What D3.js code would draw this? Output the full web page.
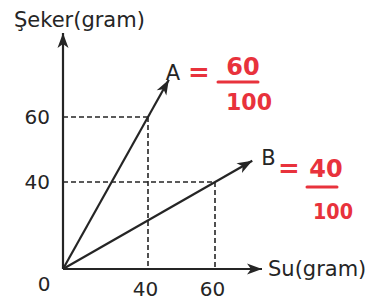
<!DOCTYPE html>
<html>
<head>
<meta charset="utf-8">
<script src="https://cdn.jsdelivr.net/npm/d3@7"></script>
<style>
  body { margin: 0; background: #fff; }
  svg { display: block; }
</style>
</head>
<body>
<div id="chart"></div>
<script>
// vectors: water (x) and sugar (y) in grams
var vectorNames = ["A", "B"];
var suValues = [40, 60];
var sekerValues = [60, 40];
// handwritten ratio next to each vector
var ratioTop = ["60", "40"];
var ratioBottom = ["100", "100"];
// tick labels
var xTicks = [40, 60];
var yTicks = [40, 60];

var width = 370, height = 300;
var ink = "#252525", red = "#e8323c";

var svg = d3.select("#chart").append("svg")
    .attr("width", width)
    .attr("height", height);

// schematic drawing, so the scale is piecewise
var x = d3.scaleLinear().domain([0, 40, 60]).range([63, 148, 215]);
var y = d3.scaleLinear().domain([0, 40, 60]).range([269, 182, 117]);

svg.append("defs").append("marker")
    .attr("id", "head")
    .attr("markerUnits", "userSpaceOnUse")
    .attr("viewBox", "-16 -6 17 12")
    .attr("refX", 0).attr("refY", 0)
    .attr("markerWidth", 17).attr("markerHeight", 12)
    .attr("orient", "auto")
    .append("path")
    .attr("d", "M0,0 L-15,-5.5 L-11,0 L-15,5.5 Z")
    .attr("fill", ink);

// dashed guides
var guides = svg.append("g")
    .attr("stroke", ink)
    .attr("stroke-width", 1.6)
    .attr("stroke-dasharray", "5,3");
vectorNames.forEach(function(n, i) {
    guides.append("line")
        .attr("x1", x(0)).attr("y1", y(sekerValues[i]))
        .attr("x2", x(suValues[i])).attr("y2", y(sekerValues[i]));
    guides.append("line")
        .attr("x1", x(suValues[i])).attr("y1", y(sekerValues[i]))
        .attr("x2", x(suValues[i])).attr("y2", y(0));
});

// axes
svg.append("line")
    .attr("x1", x(0)).attr("y1", y(0))
    .attr("x2", x(0)).attr("y2", 33)
    .attr("stroke", ink).attr("stroke-width", 2.2)
    .attr("marker-end", "url(#head)");
svg.append("line")
    .attr("x1", x(0)).attr("y1", y(0))
    .attr("x2", 262).attr("y2", y(0))
    .attr("stroke", ink).attr("stroke-width", 2.2)
    .attr("marker-end", "url(#head)");

var yAxis = svg.append("g")
    .attr("transform", "translate(" + x(0) + ",0)")
    .call(d3.axisLeft(y).tickValues(yTicks).tickSize(0).tickPadding(13));
var xAxis = svg.append("g")
    .attr("transform", "translate(0," + y(0) + ")")
    .call(d3.axisBottom(x).tickValues(xTicks).tickSize(0).tickPadding(13));
[yAxis, xAxis].forEach(function(a) {
    a.select(".domain").remove();
    a.selectAll("text")
        .attr("font-family", "DejaVu Sans")
        .attr("font-size", 20)
        .attr("fill", ink);
});
xAxis.selectAll("text").attr("dx", "-0.15em");

svg.append("text")
    .attr("x", 44).attr("y", 291)
    .attr("text-anchor", "middle")
    .attr("font-family", "DejaVu Sans").attr("font-size", 20)
    .attr("fill", ink)
    .text("0");

svg.append("text")
    .attr("x", 14).attr("y", 27)
    .attr("font-family", "DejaVu Sans").attr("font-size", 21)
    .attr("fill", ink)
    .text("Şeker(gram)");
svg.append("text")
    .attr("x", 268).attr("y", 276)
    .attr("font-family", "DejaVu Sans").attr("font-size", 21)
    .attr("fill", ink)
    .text("Su(gram)");

// vectors, drawn a bit past their point
var stretch = 1.245;
var vec = svg.selectAll(".vec")
    .data(vectorNames)
    .enter().append("g")
    .attr("class", "vec");

vec.append("line")
    .attr("x1", x(0)).attr("y1", y(0))
    .attr("x2", function(d, i) { return x(0) + stretch * (x(suValues[i]) - x(0)); })
    .attr("y2", function(d, i) { return y(0) + stretch * (y(sekerValues[i]) - y(0)); })
    .attr("stroke", ink).attr("stroke-width", 2.2)
    .attr("marker-end", "url(#head)");

var labelOffsets = [[-3, 0], [9, 4]];
vec.append("text")
    .attr("x", function(d, i) { return x(0) + stretch * (x(suValues[i]) - x(0)) + labelOffsets[i][0]; })
    .attr("y", function(d, i) { return y(0) + stretch * (y(sekerValues[i]) - y(0)) + labelOffsets[i][1]; })
    .attr("font-family", "DejaVu Sans").attr("font-size", 21)
    .attr("fill", ink)
    .text(function(d) { return d; });

// red handwritten ratios: anchor, then top text centre/baseline, bar ends/height, bottom centre/baseline/size
var ratioPos = [[188, 76], [278, 172]];
var ratioLayout = [
    {tx: 55, ty: -1, x1: 30, x2: 70, ly: 6, bx: 61, by: 34, bs: 23},
    {tx: 48, ty: 5, x1: 29, x2: 59, ly: 15, bx: 55, by: 47, bs: 21}
];
var ratio = vec.append("g")
    .attr("transform", function(d, i) { return "translate(" + ratioPos[i][0] + "," + ratioPos[i][1] + ")"; })
    .attr("fill", red)
    .attr("font-family", "DejaVu Sans")
    .attr("font-weight", "bold");
ratio.append("text")
    .attr("x", 0).attr("y", 5)
    .attr("font-size", 26)
    .text("=");
ratio.append("text")
    .attr("x", function(d, i) { return ratioLayout[i].tx; })
    .attr("y", function(d, i) { return ratioLayout[i].ty; })
    .attr("text-anchor", "middle")
    .attr("font-size", 24)
    .text(function(d, i) { return ratioTop[i]; });
ratio.append("line")
    .attr("x1", function(d, i) { return ratioLayout[i].x1; })
    .attr("x2", function(d, i) { return ratioLayout[i].x2; })
    .attr("y1", function(d, i) { return ratioLayout[i].ly; })
    .attr("y2", function(d, i) { return ratioLayout[i].ly; })
    .attr("stroke", red).attr("stroke-width", 3)
    .attr("stroke-linecap", "round");
ratio.append("text")
    .attr("x", function(d, i) { return ratioLayout[i].bx; })
    .attr("y", function(d, i) { return ratioLayout[i].by; })
    .attr("text-anchor", "middle")
    .attr("font-size", function(d, i) { return ratioLayout[i].bs; })
    .attr("textLength", function(d, i) { return i === 0 ? 46 : 40; })
    .attr("lengthAdjust", "spacingAndGlyphs")
    .text(function(d, i) { return ratioBottom[i]; });
</script>
</body>
</html>
